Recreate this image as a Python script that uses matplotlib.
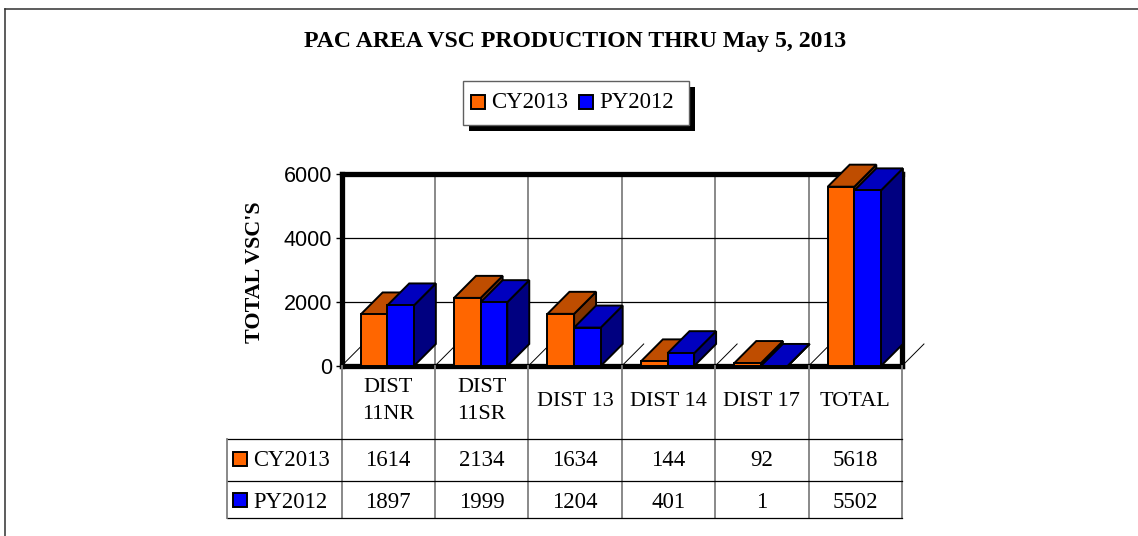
"""PAC area VSC production chart: 3D-look bars with a data table below."""

import matplotlib

matplotlib.use("Agg")
import matplotlib.pyplot as plt
from matplotlib.patches import Polygon, Rectangle
from matplotlib.transforms import Affine2D

categories = ["DIST\n11NR", "DIST\n11SR", "DIST 13", "DIST 14", "DIST 17", "TOTAL"]
series_names = ["CY2013", "PY2012"]
cy2013 = [1614, 2134, 1634, 144, 92, 5618]
py2012 = [1897, 1999, 1204, 401, 1, 5502]
y_ticks = [0, 2000, 4000, 6000]

W, H = 1138, 536
SERIF = "Liberation Serif"
SANS = "Liberation Sans"
BAR_STYLES = [
    {"front": "#ff6600", "top": "#bf4d00", "side": "#803300"},
    {"front": "#0000ff", "top": "#0000bf", "side": "#000080"},
]

# plot rectangle, in pixels from the top left
P_LEFT, P_RIGHT, P_TOP, P_BOTTOM = 341.5, 902.0, 174.5, 366.0
TABLE_LEFT = 227
ROW_LINES = [438.5, 480.5, 518.0]
ROW_TEXT = [458.5, 499.5]

BAR_W = 0.285
BAR_START = 0.205
DX = 0.235
DY = 690

fig = plt.figure(figsize=(W / 100, H / 100), dpi=100, facecolor="white")
ax = fig.add_axes(
    [
        P_LEFT / W,
        1 - P_BOTTOM / H,
        (P_RIGHT - P_LEFT) / W,
        (P_BOTTOM - P_TOP) / H,
    ]
)
px = Affine2D().scale(1, -1).translate(0, H)

n = len(categories)
ax.set_xlim(0, n)
ax.set_ylim(y_ticks[0], y_ticks[-1])
ax.set_yticks(y_ticks)
ax.set_xticks(range(n + 1))
ax.tick_params(axis="x", length=0, labelbottom=False)
ax.tick_params(axis="y", length=4, width=1, labelsize=15.5, pad=3)
for label in ax.get_yticklabels():
    label.set_fontfamily(SANS)
for spine in ax.spines.values():
    spine.set_linewidth(3.8)
    spine.set_zorder(2.5)

ax.grid(axis="y", color="black", linewidth=0.9, zorder=1)
ax.grid(axis="x", color="#808080", linewidth=1.3, zorder=1)
ax.set_axisbelow(True)

# floor lines running back from each category boundary
for i in range(n + 1):
    ax.plot([i, i + DX], [0, DY], color="black", linewidth=0.7, zorder=1.5, clip_on=False)

for i in range(n):
    for j, values in enumerate((cy2013, py2012)):
        style = BAR_STYLES[j]
        x0 = i + BAR_START + j * BAR_W
        x1 = x0 + BAR_W
        v = values[i]
        z = 3 + i + 0.1 * j
        edge = {"edgecolor": "black", "linewidth": 1.4, "clip_on": False, "joinstyle": "miter"}
        side = [(x1, 0), (x1 + DX, DY), (x1 + DX, v + DY), (x1, v)]
        top = [(x0, v), (x0 + DX, v + DY), (x1 + DX, v + DY), (x1, v)]
        ax.add_patch(Polygon(side, facecolor=style["side"], zorder=z, **edge))
        ax.add_patch(Polygon(top, facecolor=style["top"], zorder=z, **edge))
        ax.bar(x0, v, BAR_W, align="edge", color=style["front"], zorder=z + 0.01, **edge)

# outer frame, only left and top are in view
fig.add_artist(plt.Line2D([4.5, 4.5], [H, 8.5], color="#303030", linewidth=1.1, transform=px))
fig.add_artist(plt.Line2D([4.5, W], [8.5, 8.5], color="#303030", linewidth=1.1, transform=px))

fig.text(575.5, 42, "PAC AREA VSC PRODUCTION THRU May 5, 2013", transform=px,
         family=SERIF, weight="bold", fontsize=17.1, ha="center", va="center")
fig.text(255.5, 272, "TOTAL VSC'S", transform=px, family=SERIF, weight="bold",
         fontsize=15.8, rotation=90, ha="center", va="center")

# legend box with a hard shadow
fig.add_artist(Rectangle((468.5, 87), 226, 44, facecolor="black", edgecolor="none", transform=px))
fig.add_artist(Rectangle((463, 81), 226, 44, facecolor="white", edgecolor="#606060",
                         linewidth=1, transform=px))
for x_swatch, x_text, name, style in zip((471, 579), (491, 599), series_names, BAR_STYLES):
    fig.add_artist(Rectangle((x_swatch, 94.5), 14, 14, facecolor=style["front"], edgecolor="black",
                             linewidth=1.4, transform=px))
    fig.text(x_text, 102.5, name, transform=px, family=SERIF, fontsize=16.5, ha="left", va="center")

# data table
cell_w = (P_RIGHT - P_LEFT) / n
for i in range(n + 1):
    x = P_LEFT + i * cell_w
    fig.add_artist(plt.Line2D([x, x], [P_BOTTOM, ROW_LINES[-1]], color="#808080", linewidth=1.3, transform=px))
for y in ROW_LINES:
    fig.add_artist(plt.Line2D([TABLE_LEFT, P_RIGHT], [y, y], color="black", linewidth=0.9, transform=px))
fig.add_artist(plt.Line2D([TABLE_LEFT, TABLE_LEFT], [ROW_LINES[0], ROW_LINES[-1]],
                          color="#808080", linewidth=1.3, transform=px))

for i, label in enumerate(categories):
    x = P_LEFT + (i + 0.5) * cell_w
    fig.text(x, 401, label, transform=px, family=SERIF, fontsize=16, ha="center", va="center",
             linespacing=1.62)
    for y, values in zip(ROW_TEXT, (cy2013, py2012)):
        fig.text(x, y + 2.5, str(values[i]), transform=px, family=SERIF, fontsize=16.5,
                 ha="center", va="center")

for y, name, style in zip(ROW_TEXT, series_names, BAR_STYLES):
    fig.add_artist(Rectangle((233, y - 7), 14, 14, facecolor=style["front"], edgecolor="black",
                             linewidth=1.4, transform=px))
    fig.text(253, y + 2.5, name, transform=px, family=SERIF, fontsize=16.3, ha="left", va="center")

fig.savefig("out.png", dpi=100)
